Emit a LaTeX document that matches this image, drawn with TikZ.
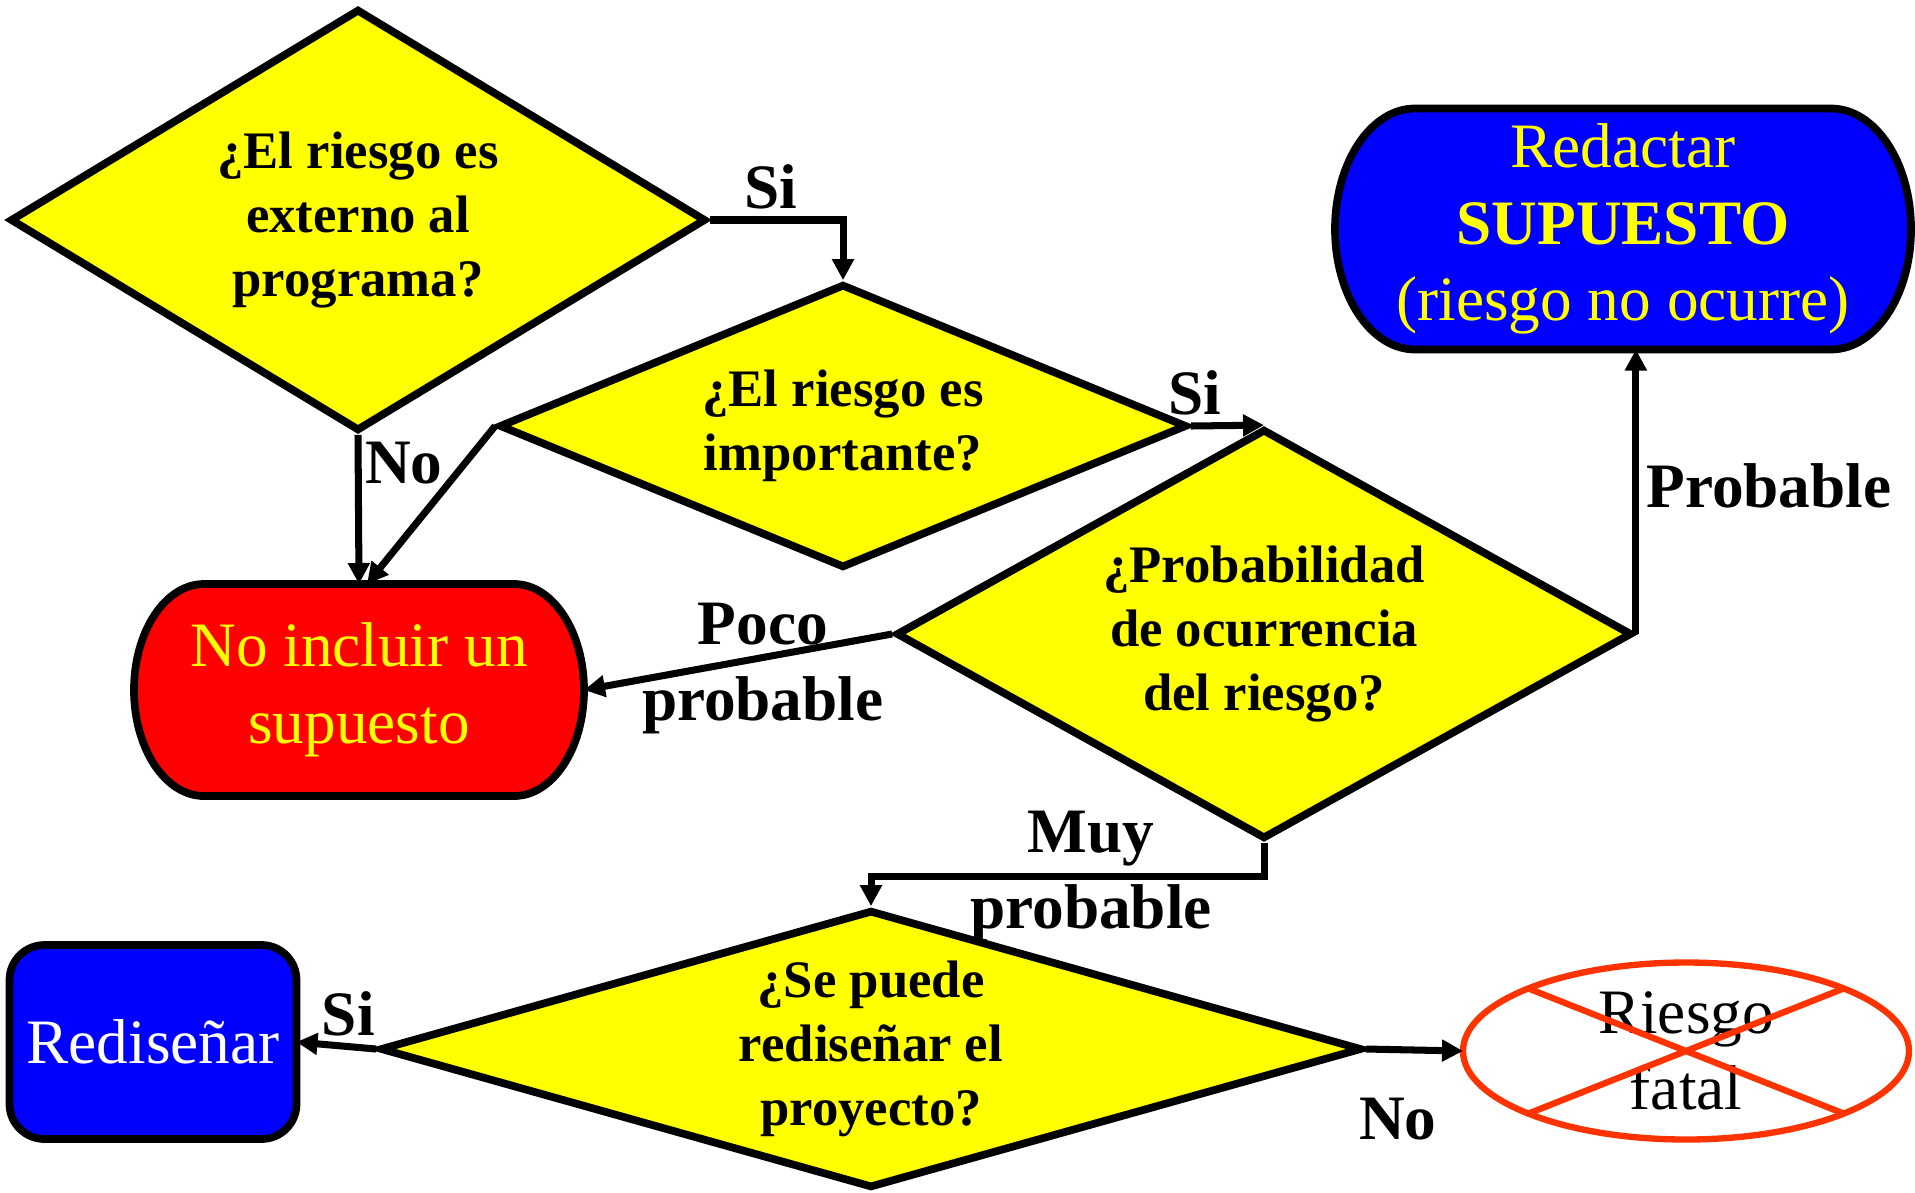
\documentclass[tikz,border=0pt]{standalone}
\usepackage{fontspec}
\setmainfont{Liberation Serif}
\usetikzlibrary{shapes.geometric, positioning, arrows.meta, backgrounds}
\definecolor{amarillo}{RGB}{255,255,0}
\definecolor{rojo}{RGB}{255,0,0}
\definecolor{azul}{RGB}{0,0,255}
\definecolor{naranja}{RGB}{255,51,0}
\tikzset{
    >={Triangle[length=0.21cm, width=0.21cm]}, % puntas de flecha rellenas
    flecha/.style={->, line width=2pt}, % conectores entre nodos
    decision/.style={diamond, draw, line width=2.2pt, fill=amarillo, inner sep=0pt, align=center, font=\fontsize{15}{18.2}\selectfont\bfseries}, % rombos amarillos
    caja/.style={rectangle, inner sep=0pt, outer sep=0pt, align=center, font=\fontsize{18}{21.8}\selectfont}, % cajas de resultado
    etiqueta/.style={font=\fontsize{18}{21.6}\selectfont\bfseries, inner sep=2pt, align=center} % textos sobre los conectores
}
% caja con lados curvos: nodo, radio x, medio alto, relleno
\newcommand{\drawcapsule}[4]{%
    \draw[line width=2.2pt, fill=#4] ([xshift=#2]#1.north west) -- ([xshift=-#2]#1.north east)
        arc[start angle=90, end angle=-90, x radius=#2, y radius=#3]
        -- ([xshift=#2]#1.south west)
        arc[start angle=270, end angle=90, x radius=#2, y radius=#3] -- cycle;}

\begin{document}
\begin{tikzpicture}
		\useasboundingbox (0,0) rectangle (19.15,-11.92);
		% Decisiones
		\node[decision, minimum width=6.96cm, minimum height=4.22cm, aspect=1.65] (externo) at (3.58,-2.20) {¿El riesgo es\\externo al\\programa?};
		\node[decision, minimum width=6.88cm, minimum height=2.84cm, aspect=2.4] (importante) at (8.43,-4.26) {¿El riesgo es\\importante?};
		\node[decision, minimum width=7.36cm, minimum height=4.10cm, aspect=1.8] (probab) at (12.64,-6.34) {¿Probabilidad\\de ocurrencia\\del riesgo?};
		\node[decision, minimum width=9.82cm, minimum height=2.78cm, aspect=3.5] (redisenable) at (8.71,-10.49) {¿Se puede\\rediseñar el\\proyecto?};
		
		% Resultados
		\node[caja, minimum width=4.50cm, minimum height=2.12cm, text=amarillo] (noincluir) at (3.59,-6.90) {No incluir un\\supuesto};
		\node[caja, minimum width=5.76cm, minimum height=2.41cm, text=amarillo] (supuesto) at (16.23,-2.29) {Redactar\\\textbf{SUPUESTO}\\(riesgo no ocurre)};
		\node[caja, draw, line width=2.2pt, fill=azul, rounded corners=0.35cm, minimum width=2.87cm, minimum height=1.94cm, text=white] (redisenar) at (1.53,-10.42) {Rediseñar};
		\node[caja, ellipse, draw=naranja, line width=1.8pt, minimum width=4.46cm, minimum height=1.77cm] (fatal) at (16.86,-10.51) {Riesgo\\fatal};
		\draw[naranja, line width=1.8pt] (fatal.north west) -- (fatal.south east) (fatal.north east) -- (fatal.south west);
		
		\begin{scope}[on background layer]
			\drawcapsule{noincluir}{0.7cm}{1.06cm}{rojo}
			\drawcapsule{supuesto}{0.8cm}{1.205cm}{azul}
		\end{scope}
		
		% Transiciones
		\draw[flecha] (externo.east) -| node[etiqueta, pos=0.23, above]{Si} (importante.north);
		\draw[flecha] (externo.south) -- node[etiqueta, pos=0.19, right, inner sep=1pt]{No} (noincluir.north);
		\draw[flecha] (importante.west) -- ([xshift=0.08cm]noincluir.north);
		\draw[flecha] (importante.east) -- node[etiqueta, pos=0.05, above]{Si} (probab.north);
		\draw[flecha] (probab.west) -- node[etiqueta, pos=0.42, yshift=-0.11cm]{Poco\\probable} (noincluir.east);
		\draw[flecha] (probab.east) -- node[etiqueta, pos=0.52, right]{Probable} (probab.east |- supuesto.south);
		\draw[flecha] (probab.south) -- ++(0,-0.34) -| node[etiqueta, pos=0.22]{Muy\\probable} (redisenable.north);
		\draw[flecha] (redisenable.west) -- node[etiqueta, pos=0.35, above]{Si} (redisenar.east);
		\draw[flecha] (redisenable.east) -- node[etiqueta, pos=0.33, below=0.38cm]{No} (fatal.west);
	\end{tikzpicture}
\end{document}
